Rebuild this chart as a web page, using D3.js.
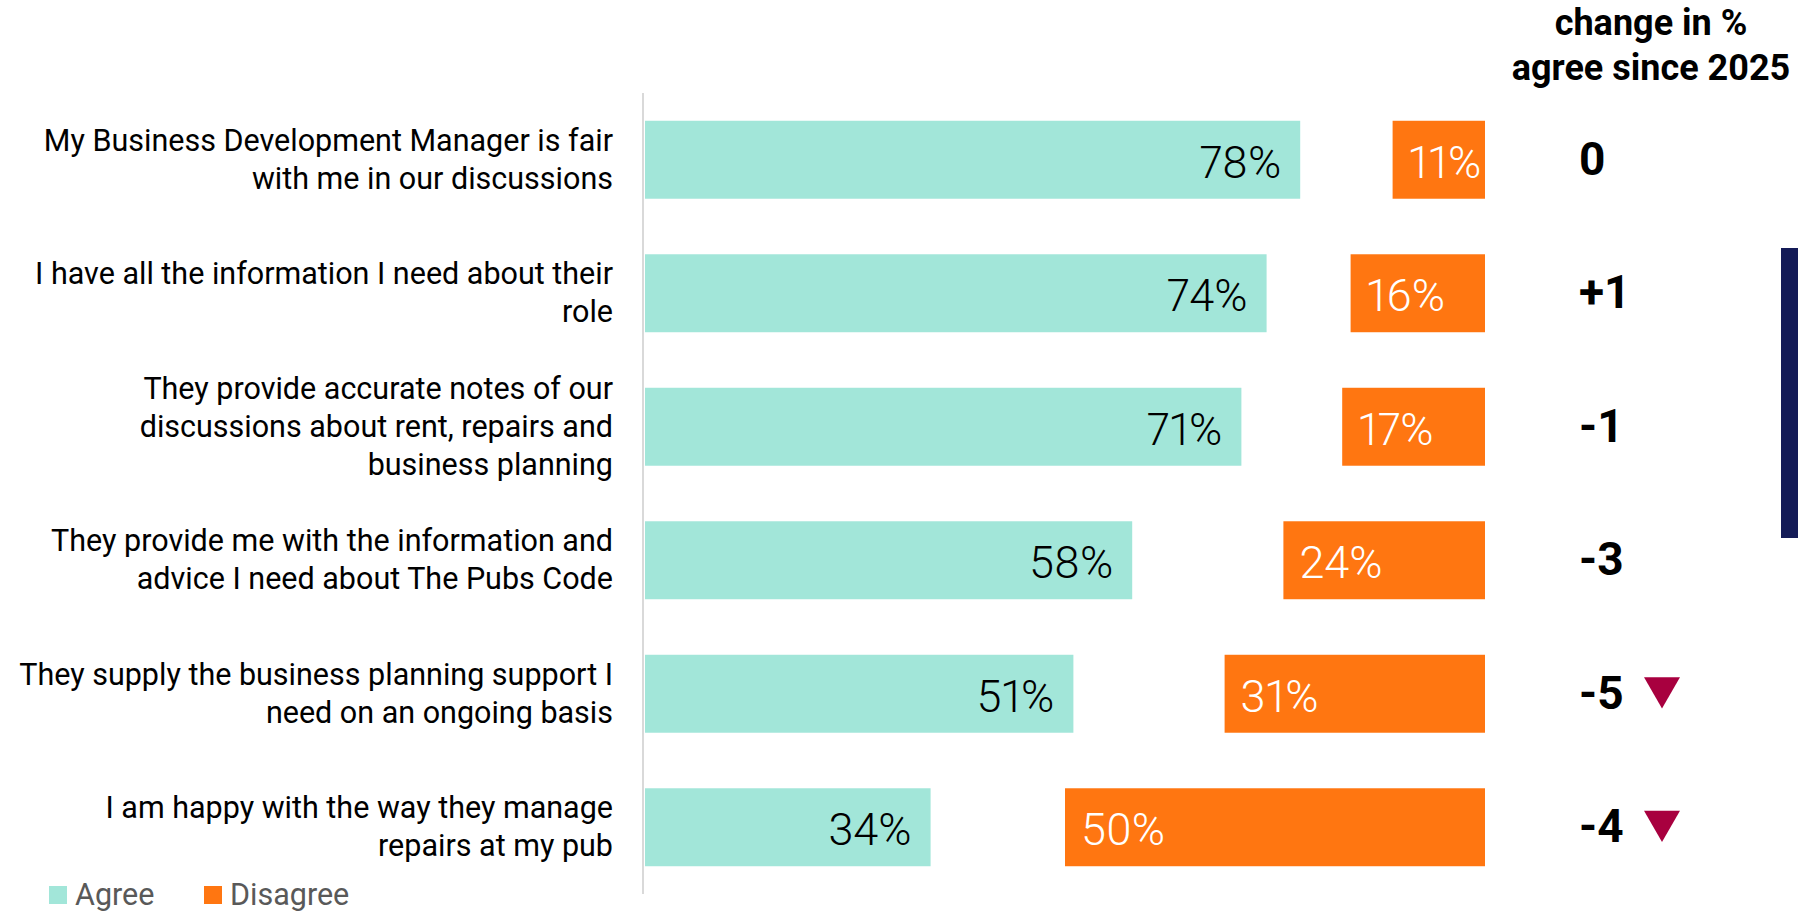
<!DOCTYPE html>
<html>
<head>
<meta charset="utf-8">
<script src="https://cdn.jsdelivr.net/npm/d3@7"></script>
<style>
  html, body { margin: 0; padding: 0; background: #ffffff; }
  svg { display: block; }
  text { font-family: Roboto, "Noto Sans", sans-serif; }
  .val { font-variant-numeric: proportional-nums; font-feature-settings: "pnum" 1; }
</style>
</head>
<body>
<svg id="chart" width="1798" height="913"></svg>
<script>
// Statements, one entry per row; each inner array is a wrapped line
const statements = [
  ["My Business Development Manager is fair", "with me in our discussions"],
  ["I have all the information I need about their", "role"],
  ["They provide accurate notes of our", "discussions about rent, repairs and", "business planning"],
  ["They provide me with the information and", "advice I need about The Pubs Code"],
  ["They supply the business planning support I", "need on an ongoing basis"],
  ["I am happy with the way they manage", "repairs at my pub"]
];
// Share agreeing / disagreeing (%)
const agree = [78, 74, 71, 58, 51, 34];
const disagree = [11, 16, 17, 24, 31, 50];
// Change in % agree since 2025, and whether the drop is significant
const change = [0, 1, -1, -3, -5, -4];
const significantDrop = [false, false, false, false, true, true];
const seriesNames = ["Agree", "Disagree"];
const headerLines = ["change in %", "agree since 2025"];

const colors = { agree: "#a2e6d9", disagree: "#ff7611", drop: "#a8003f", navy: "#141b57" };

const svg = d3.select("#chart");
const rows = d3.range(statements.length);

const x = d3.scaleLinear().domain([0, 100]).range([645, 1485]);
const y = d3.scaleBand().domain(rows).range([93, 894]).paddingInner(0.416).paddingOuter(0.208);

// Vertical baseline of the bars
svg.append("line")
  .attr("x1", 643).attr("x2", 643)
  .attr("y1", y.range()[0]).attr("y2", y.range()[1])
  .attr("stroke", "#d9d9d9").attr("stroke-width", 2);

// Agree bars start at 0, disagree bars end at 100
svg.selectAll("rect.agree").data(rows).join("rect")
  .attr("class", "agree")
  .attr("x", x(0)).attr("y", i => y(i))
  .attr("width", i => x(agree[i]) - x(0)).attr("height", y.bandwidth())
  .attr("fill", colors.agree);

svg.selectAll("rect.disagree").data(rows).join("rect")
  .attr("class", "disagree")
  .attr("x", i => x(100 - disagree[i])).attr("y", i => y(i))
  .attr("width", i => x(100) - x(100 - disagree[i])).attr("height", y.bandwidth())
  .attr("fill", colors.disagree);

const mid = i => y(i) + y.bandwidth() / 2;

// Value labels
svg.selectAll("text.agreeVal").data(rows).join("text")
  .attr("class", "agreeVal val")
  .attr("x", i => x(agree[i]) - 19).attr("y", i => mid(i) + 18)
  .attr("text-anchor", "end")
  .attr("font-size", 45).attr("font-weight", 300).attr("fill", "#000")
  .text(i => agree[i] + "%");

svg.selectAll("text.disVal").data(rows).join("text")
  .attr("class", "disVal val")
  .attr("x", i => x(100 - disagree[i]) + 16).attr("y", i => mid(i) + 18)
  .attr("text-anchor", "start")
  .attr("font-size", 45).attr("font-weight", 300).attr("fill", "#fff")
  .text(i => disagree[i] + "%");

// Statement labels, right aligned against the bars
const lineH = 38;
svg.selectAll("text.stmt").data(rows).join("text")
  .attr("class", "stmt")
  .attr("text-anchor", "end")
  .attr("font-size", 30.5).attr("fill", "#000")
  .each(function (i) {
    const lines = statements[i];
    const top = mid(i) - (lines.length - 1) * lineH / 2;
    d3.select(this).selectAll("tspan").data(lines).join("tspan")
      .attr("x", 613)
      .attr("y", (d, k) => top + k * lineH + 10)
      .text(d => d);
  });

// Change column header
svg.append("text")
  .attr("text-anchor", "middle")
  .attr("font-size", 36).attr("font-weight", 700).attr("fill", "#000")
  .selectAll("tspan").data(headerLines).join("tspan")
  .attr("x", 1651).attr("y", (d, k) => 35 + k * 45)
  .text(d => d);

const fmtChange = v => (v > 0 ? "+" : "") + v;
svg.selectAll("text.chg").data(rows).join("text")
  .attr("class", "chg")
  .attr("x", 1579).attr("y", i => mid(i) + 15)
  .attr("text-anchor", "start")
  .attr("font-size", 46).attr("font-weight", 700).attr("fill", "#000")
  .text(i => fmtChange(change[i]));

// Significant decrease markers
const tri = d3.symbol().type(d3.symbolTriangle).size(560);
svg.selectAll("path.drop").data(rows.filter(i => significantDrop[i])).join("path")
  .attr("class", "drop")
  .attr("transform", i => `translate(1662,${mid(i) - 6}) rotate(180)`)
  .attr("d", tri)
  .attr("fill", colors.drop);

// Navy side tab
svg.append("rect")
  .attr("x", 1781).attr("y", 248).attr("width", 17).attr("height", 290)
  .attr("fill", colors.navy);

// Legend
const legend = svg.append("g");
const legendX = [49, 204];
seriesNames.forEach((name, k) => {
  legend.append("rect")
    .attr("x", legendX[k]).attr("y", 886).attr("width", 18).attr("height", 18)
    .attr("fill", k === 0 ? colors.agree : colors.disagree);
  legend.append("text")
    .attr("x", legendX[k] + 26).attr("y", 905)
    .attr("font-size", 30.5).attr("fill", "#595959")
    .text(name);
});
</script>
</body>
</html>
